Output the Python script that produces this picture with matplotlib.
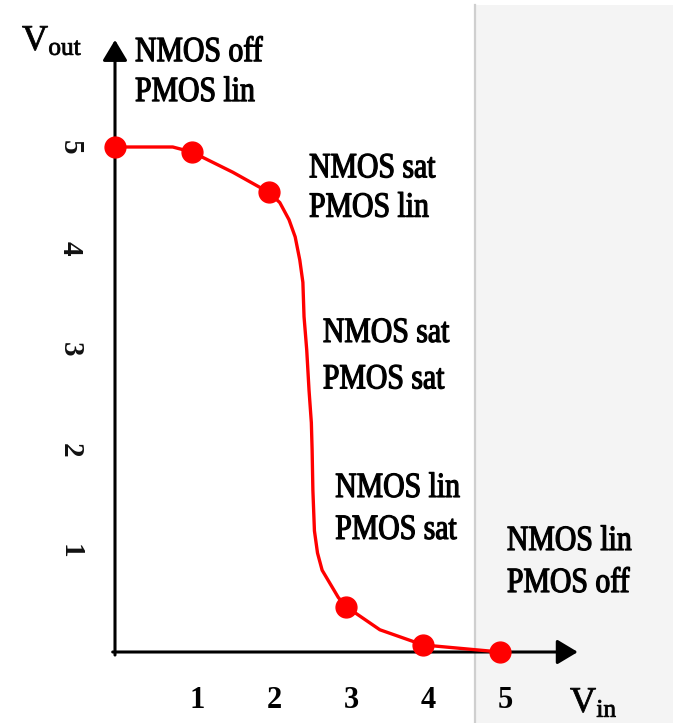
import matplotlib
matplotlib.use("Agg")
import matplotlib.pyplot as plt
from matplotlib.patches import Rectangle
from matplotlib.patheffects import AbstractPathEffect
from matplotlib.transforms import Affine2D, offset_copy

# CMOS inverter voltage transfer characteristic
curve_vin = [0.00, 0.75, 1.00, 1.53, 2.00, 2.14, 2.26, 2.34, 2.40, 2.44, 2.455, 2.49,
             2.52, 2.55, 2.56, 2.57, 2.59, 2.63, 2.69, 2.90, 3.00, 3.44, 4.00, 5.00]
curve_vout = [5.00, 5.00, 4.95, 4.75, 4.55, 4.45, 4.28, 4.11, 3.88, 3.66, 3.32, 2.99,
              2.59, 2.27, 2.00, 1.60, 1.20, 0.98, 0.81, 0.54, 0.45, 0.22, 0.07, 0.00]

point_vin = [0, 1, 2, 3, 4, 5]
point_vout = [5.00, 4.95, 4.55, 0.45, 0.07, 0.00]

tick_values = [1, 2, 3, 4, 5]
tick_labels = ["1", "2", "3", "4", "5"]

region_nmos = ["NMOS off", "NMOS sat", "NMOS sat", "NMOS lin", "NMOS lin"]
region_pmos = ["PMOS lin", "PMOS lin", "PMOS sat", "PMOS sat", "PMOS off"]


class Condense(AbstractPathEffect):
    """Squeeze glyph outlines horizontally about each line's origin and
    give them a thin outline so they print a little heavier."""

    def __init__(self, sx, stroke=0.0):
        super().__init__()
        self._sx = sx
        self._stroke = stroke

    def draw_path(self, renderer, gc, tpath, affine, rgbFace=None):
        gc0 = renderer.new_gc()
        gc0.copy_properties(gc)
        if self._stroke > 0 and rgbFace is not None:
            gc0.set_linewidth(self._stroke)
            gc0.set_foreground(rgbFace)
            gc0.set_joinstyle("round")
        renderer.draw_path(gc0, tpath, Affine2D().scale(self._sx, 1.0) + affine, rgbFace)
        gc0.restore()


W, H = 673, 723
fig = plt.figure(figsize=(W / 100, H / 100), dpi=100)
ax = fig.add_axes([0, 0, 1, 1])
ax.axis("off")

# 77 px per volt horizontally, 101 px per volt vertically
x0_px, y0_px, sx_px, sy_px = 115, 652, 77, 101
ax.set_xlim(-x0_px / sx_px, (W - x0_px) / sx_px)
ax.set_ylim(-(H - y0_px) / sy_px, y0_px / sy_px)

serif = "Liberation Serif"
plt.rcParams["mathtext.fontset"] = "custom"
plt.rcParams["mathtext.rm"] = serif

# shaded region on the right
ax.add_patch(Rectangle((4.675, -1.0), 5.0, (652 - 5) / sy_px + 1.0,
                       facecolor="#f4f4f4", edgecolor="none", zorder=0))
ax.plot([4.675, 4.675], [-1.0, (652 - 5) / sy_px], color="#cfcfcf", lw=1.6, zorder=0.5)

# axes with arrow heads
arrow = dict(arrowstyle="-|>,head_length=0.45,head_width=0.27", color="black",
             lw=2.2, mutation_scale=28, shrinkA=0, shrinkB=0)
ax.annotate("", xy=(0, 6.06), xytext=(0, -0.03), arrowprops=arrow, zorder=3)
ax.annotate("", xy=(6.01, 0), xytext=(-0.03, 0), arrowprops=arrow, zorder=3)

# transfer curve and operating points
ax.plot(curve_vin, curve_vout, color="#ff0000", lw=2.4, solid_capstyle="round",
        solid_joinstyle="round", zorder=4)
ax.plot(point_vin, point_vout, "o", color="#ff0000", ms=15, zorder=5)

heavy = [Condense(1.0, stroke=0.6)]

# tick labels
xlab_tr = offset_copy(ax.transData, fig=fig, x=5, y=0, units="dots")
for v, s in zip(tick_values, tick_labels):
    ax.text(v, -0.485, s, transform=xlab_tr, ha="center", va="center",
            fontsize=22, fontweight="bold", family=serif)
    ax.text(-0.584, v, s, rotation=-90, ha="center", va="center",
            fontsize=21, fontweight="bold", family=serif, color="#111111")

# axis titles
ax.text(22 / sx_px - x0_px / sx_px, (y0_px - 50) / sy_px, r"$\mathregular{V_{out}}$",
        ha="left", va="baseline", fontsize=26, family=serif, path_effects=heavy)
ax.text((570 - x0_px) / sx_px, (y0_px - 712) / sy_px, r"$\mathregular{V_{in}}$",
        ha="left", va="baseline", fontsize=26, family=serif, path_effects=heavy)

# operating-region labels
label_left = [0.26, 2.52, 2.70, 2.86, 5.09]
label_top = [5.85, 4.70, 3.07, 1.535, 1.01]
label_bottom = [5.455, 4.31, 2.61, 1.12, 0.594]
squeeze = [Condense(0.84, stroke=0.9)]
for xl, yt, yb, n, p in zip(label_left, label_top, label_bottom, region_nmos, region_pmos):
    for yy, s in ((yt, n), (yb, p)):
        ax.text(xl, yy, s, ha="left", va="baseline", fontsize=25.5, family=serif,
                color="black", path_effects=squeeze, zorder=6)

fig.savefig("out.png", dpi=100)
